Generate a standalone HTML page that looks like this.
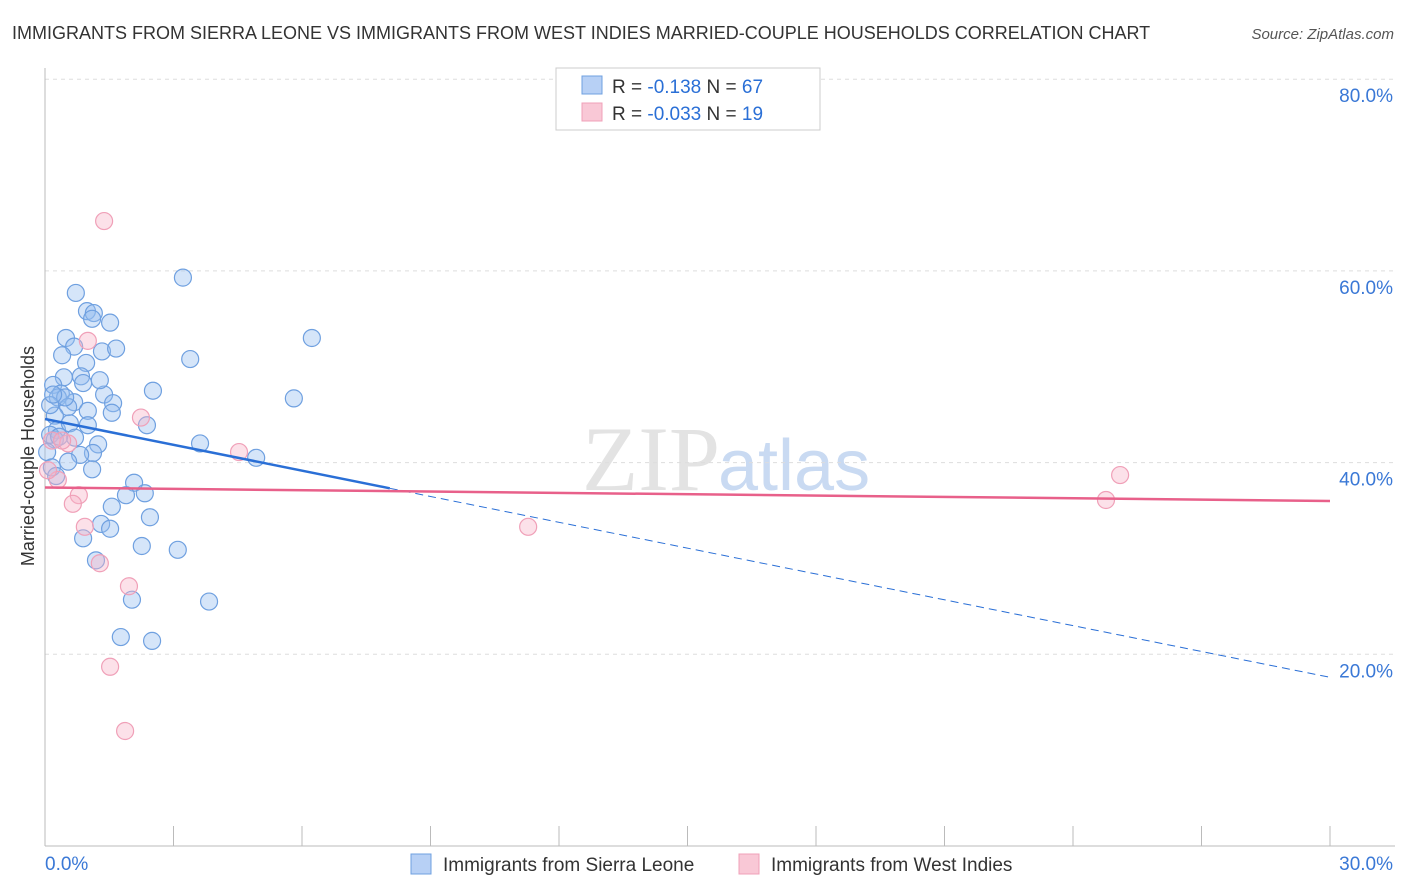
<!DOCTYPE html>
<html><head><meta charset="utf-8"><style>
body{margin:0;background:#fff;font-family:"Liberation Sans",sans-serif;}
svg{display:block}
</style></head><body>
<svg id="chart" width="1406" height="892" viewBox="0 0 1406 892">
<text x="12" y="39" font-size="18" fill="#333">IMMIGRANTS FROM SIERRA LEONE VS IMMIGRANTS FROM WEST INDIES MARRIED-COUPLE HOUSEHOLDS CORRELATION CHART</text>
<text x="1394" y="39" font-size="15" fill="#555" font-style="italic" text-anchor="end">Source: ZipAtlas.com</text>
<text x="720" y="490" font-size="92" fill="#e3e3e3" font-family="Liberation Serif,serif" text-anchor="end">ZIP</text>
<text x="718" y="490" font-size="72" fill="#c9daf2">atlas</text>
<g id="grid"></g>
<g id="axes"></g>
<g id="pts"></g>
<g id="trend"></g>
<text transform="translate(34,456) rotate(-90)" font-size="18" fill="#333" text-anchor="middle">Married-couple Households</text>
<g>
<rect x="556" y="68" width="264" height="62" fill="#fff" stroke="#ccc"/>
<rect x="582" y="76" width="20" height="18" fill="#b7d0f5" stroke="#6fa0e0"/>
<text x="612" y="93" font-size="19" fill="#333">R = <tspan fill="#2a6fd6"> -0.138</tspan>   N = <tspan fill="#2a6fd6">67</tspan></text>
<rect x="582" y="103" width="20" height="18" fill="#f9c8d6" stroke="#f0a0b8"/>
<text x="612" y="120" font-size="19" fill="#333">R = <tspan fill="#2a6fd6">-0.033</tspan>   N = <tspan fill="#2a6fd6"> 19</tspan></text>
</g>
<g>
<rect x="411" y="854" width="20" height="20" fill="#b7d0f5" stroke="#6fa0e0"/>
<text x="443" y="871" font-size="19" fill="#333">Immigrants from Sierra Leone</text>
<rect x="739" y="854" width="20" height="20" fill="#f9c8d6" stroke="#f0a0b8"/>
<text x="771" y="871" font-size="19" fill="#333">Immigrants from West Indies</text>
</g>
</svg>
<script>
const yTicks=[20,40,60,80];
const xTickLabels=["0.0%","30.0%"];
const blueX=[0.72,0.98,1.14,1.10,1.52,3.22,0.49,0.68,0.40,1.33,1.66,0.96,3.39,6.23,0.44,0.84,0.89,0.19,0.37,0.30,0.68,1.38,1.59,2.52,5.81,1.00,0.54,0.23,1.56,2.38,0.28,0.58,1.00,0.70,0.23,1.24,3.62,0.05,1.12,0.82,4.93,0.54,0.16,1.10,0.26,2.08,2.33,1.89,1.56,1.31,1.52,2.45,0.89,2.26,3.10,1.19,2.03,3.83,1.77,2.50,0.12,0.12,0.47,0.33,0.19,1.28];
const blueY=[57.7,55.8,55.6,55.0,54.6,59.3,53.0,52.1,51.2,51.6,51.9,50.4,50.8,53.0,48.9,49.0,48.3,48.1,47.2,46.8,46.3,47.1,46.2,47.5,46.7,45.4,45.8,44.9,45.2,43.9,43.4,44.1,43.9,42.6,42.4,41.9,42.0,41.1,41.0,40.8,40.5,40.1,39.5,39.3,38.6,37.9,36.8,36.6,35.4,33.6,33.1,34.3,32.1,31.3,30.9,29.8,25.7,25.5,21.8,21.4,46.0,42.9,46.8,42.7,47.1,48.6];
const pinkX=[1.38,1.00,2.24,4.53,0.16,0.54,0.30,0.79,0.65,0.93,1.28,1.96,1.52,1.87,11.28,25.10,24.77,0.07,0.40];
const pinkY=[65.2,52.7,44.7,41.1,42.3,42.0,38.2,36.6,35.7,33.3,29.5,27.1,18.7,12.0,33.3,38.7,36.1,39.2,42.3];
const blueTrend=[44.55,17.6];
const blueSolidEnd=8.05;
const pinkTrend=[37.4,36.0];
const NS="http://www.w3.org/2000/svg";
const sx=v=>45+v/30*1285;
const sy=v=>846-v*9.585;
function mk(tag,attrs,parent){const e=document.createElementNS(NS,tag);for(const k in attrs)e.setAttribute(k,attrs[k]);parent.appendChild(e);return e;}
const grid=document.getElementById('grid'),axes=document.getElementById('axes'),pts=document.getElementById('pts'),tr=document.getElementById('trend');
yTicks.forEach(t=>{
 const l=mk('line',{x1:45,x2:1395,y1:sy(t),y2:sy(t),stroke:'#ddd','stroke-dasharray':'4,4'},grid);
 
 
 const tx=mk('text',{x:1393,y:sy(t)+23,'font-size':19,fill:'#3a78d6','text-anchor':'end'},grid);
 tx.textContent=t.toFixed(1)+'%';
 
 
});
const ax=mk('line',{x1:45,x2:45,y1:68,y2:846,stroke:'#bbb'},axes);


const bx=mk('line',{x1:45,x2:1395,y1:846,y2:846,stroke:'#bbb'},axes);


for(let i=0;i<=10;i++){
 const t=mk('line',{x1:sx(i*3),x2:sx(i*3),y1:826,y2:846,stroke:'#bbb'},axes);
 
 
}
const xl0=mk('text',{x:45,y:870,'font-size':19,fill:'#3a78d6'},axes);xl0.textContent=xTickLabels[0];


const xl1=mk('text',{x:1393,y:870,'font-size':19,fill:'#3a78d6','text-anchor':'end'},axes);xl1.textContent=xTickLabels[1];


blueX.forEach((x,i)=>{
 const c=mk('circle',{cx:sx(x),cy:sy(blueY[i]),r:8.5,fill:'rgba(150,190,240,0.4)',stroke:'#6fa0e0','stroke-width':1.2},pts);
 
 
});
pinkX.forEach((x,i)=>{
 const c=mk('circle',{cx:sx(x),cy:sy(pinkY[i]),r:8.5,fill:'rgba(248,180,200,0.4)',stroke:'#f0a0b8','stroke-width':1.2},pts);
 
 
});
const by=x=>blueTrend[0]+(blueTrend[1]-blueTrend[0])*x/30;
const b1=mk('line',{x1:sx(0),y1:sy(by(0)),x2:sx(blueSolidEnd),y2:sy(by(blueSolidEnd)),stroke:'#2a6fd6','stroke-width':2.5},tr);


const b2=mk('line',{x1:sx(blueSolidEnd),y1:sy(by(blueSolidEnd)),x2:sx(30),y2:sy(by(30)),stroke:'#2a6fd6','stroke-width':1,'stroke-dasharray':'8,5'},tr);


const p1=mk('line',{x1:sx(0),y1:sy(pinkTrend[0]),x2:sx(30),y2:sy(pinkTrend[1]),stroke:'#e8608a','stroke-width':2.5},tr);


</script>
</body></html>
